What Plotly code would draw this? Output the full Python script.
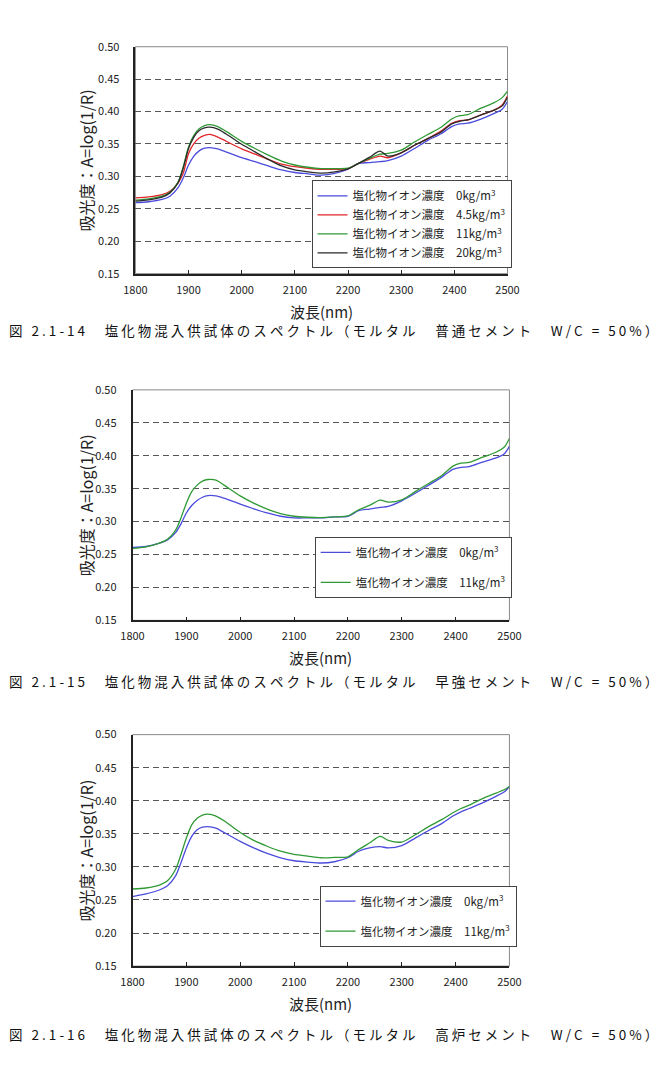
import plotly.graph_objects as go

# ---------------- data ----------------
wavelength = [1800, 1825, 1850, 1865, 1880, 1890, 1900, 1910, 1920, 1930, 1940, 1955, 1970,
              2000, 2025, 2050, 2075, 2100, 2125, 2150, 2175, 2200, 2220, 2240, 2260, 2275,
              2300, 2325, 2350, 2375, 2395, 2410, 2425, 2450, 2475, 2490, 2500]

# Fig 2.1-14 (普通セメント)
f14_0kg = [0.2594, 0.2609, 0.2644, 0.2695, 0.2822, 0.2974, 0.3176, 0.3313, 0.3394, 0.3435, 0.3445, 0.3424, 0.3379,
           0.3288, 0.3227, 0.3161, 0.3100, 0.3060, 0.3040, 0.3019, 0.3045, 0.3110, 0.3202, 0.3212, 0.3227, 0.3242,
           0.3313, 0.3430, 0.3556, 0.3658, 0.3769, 0.3810, 0.3820, 0.3885, 0.3972, 0.4037, 0.4154]
f14_4_5kg = [0.2670, 0.2685, 0.2720, 0.2771, 0.2898, 0.3050, 0.3354, 0.3506, 0.3592, 0.3632, 0.3647, 0.3607, 0.3546,
             0.3424, 0.3343, 0.3262, 0.3191, 0.3151, 0.3126, 0.3110, 0.3110, 0.3120, 0.3202, 0.3262, 0.3313, 0.3288,
             0.3364, 0.3480, 0.3582, 0.3698, 0.3820, 0.3860, 0.3870, 0.3951, 0.4022, 0.4103, 0.4240]
f14_11kg = [0.2634, 0.2654, 0.2695, 0.2756, 0.2908, 0.3151, 0.3455, 0.3632, 0.3734, 0.3784, 0.3799, 0.3769, 0.3698,
            0.3541, 0.3430, 0.3328, 0.3237, 0.3176, 0.3141, 0.3120, 0.3120, 0.3126, 0.3202, 0.3278, 0.3343, 0.3354,
            0.3404, 0.3531, 0.3647, 0.3759, 0.3885, 0.3936, 0.3951, 0.4052, 0.4139, 0.4215, 0.4316]
f14_20kg = [0.2619, 0.2639, 0.2680, 0.2746, 0.2898, 0.3126, 0.3430, 0.3607, 0.3708, 0.3749, 0.3759, 0.3729, 0.3658,
            0.3495, 0.3379, 0.3262, 0.3161, 0.3100, 0.3070, 0.3050, 0.3070, 0.3116, 0.3202, 0.3293, 0.3389, 0.3313,
            0.3364, 0.3480, 0.3582, 0.3683, 0.3810, 0.3850, 0.3870, 0.3946, 0.4022, 0.4088, 0.4225]

# Fig 2.1-15 (早強セメント)
f15_0kg = [0.2607, 0.2622, 0.2672, 0.2722, 0.2832, 0.2966, 0.3131, 0.3245, 0.3320, 0.3370, 0.3395, 0.3390, 0.3355,
           0.3265, 0.3195, 0.3131, 0.3081, 0.3056, 0.3056, 0.3056, 0.3071, 0.3081, 0.3165, 0.3190, 0.3215, 0.3230,
           0.3315, 0.3430, 0.3554, 0.3679, 0.3794, 0.3824, 0.3834, 0.3903, 0.3968, 0.4028, 0.4143]
f15_11kg = [0.2592, 0.2617, 0.2672, 0.2732, 0.2871, 0.3056, 0.3280, 0.3455, 0.3554, 0.3614, 0.3639, 0.3629, 0.3554,
            0.3390, 0.3280, 0.3190, 0.3121, 0.3081, 0.3066, 0.3061, 0.3071, 0.3086, 0.3180, 0.3245, 0.3325, 0.3295,
            0.3330, 0.3455, 0.3579, 0.3704, 0.3843, 0.3888, 0.3898, 0.3978, 0.4053, 0.4128, 0.4262]

# Fig 2.1-16 (高炉セメント)
f16_0kg = [0.2552, 0.2592, 0.2651, 0.2716, 0.2865, 0.3064, 0.3287, 0.3461, 0.3560, 0.3600, 0.3610, 0.3585, 0.3520,
           0.3386, 0.3287, 0.3203, 0.3138, 0.3093, 0.3073, 0.3059, 0.3078, 0.3138, 0.3237, 0.3287, 0.3307, 0.3287,
           0.3322, 0.3436, 0.3550, 0.3659, 0.3769, 0.3833, 0.3883, 0.3967, 0.4067, 0.4131, 0.4216]
f16_11kg = [0.2666, 0.2681, 0.2726, 0.2790, 0.2964, 0.3188, 0.3436, 0.3635, 0.3734, 0.3784, 0.3798, 0.3769, 0.3699,
            0.3520, 0.3401, 0.3312, 0.3237, 0.3188, 0.3163, 0.3138, 0.3143, 0.3153, 0.3262, 0.3361, 0.3461, 0.3401,
            0.3376, 0.3486, 0.3610, 0.3719, 0.3818, 0.3883, 0.3933, 0.4032, 0.4116, 0.4166, 0.4216]

series_label_prefix = "塩化物イオン濃度　"
conc_labels = ["0kg/m<sup>3</sup>", "4.5kg/m<sup>3</sup>", "11kg/m<sup>3</sup>", "20kg/m<sup>3</sup>"]

captions = [
    "図 2.1-14　塩化物混入供試体のスペクトル（モルタル　普通セメント　W/C = 50%）",
    "図 2.1-15　塩化物混入供試体のスペクトル（モルタル　早強セメント　W/C = 50%）",
    "図 2.1-16　塩化物混入供試体のスペクトル（モルタル　高炉セメント　W/C = 50%）",
]
y_title = "吸光度：A=log(1/R)"
x_title = "波長(nm)"

# ---------------- style ----------------
W, H = 667, 1065
FONT = "Noto Sans CJK JP"
C_BLUE = "#4b4bdc"
C_RED = "#e0262a"
C_GREEN = "#2f9a35"
C_BLACK = "#2a2a2a"


def px_x(p):
    return p / W


def px_y(p):
    return 1 - p / H


# plot boxes in pixels: (left, right, top, bottom)
boxes = [(128, 514, 38.3, 268.7), (125, 516, 386.7, 620.7), (125, 516, 736.7, 971.7)]
legend_pos = [(310.7, 174), (314, 536), (319, 890)]
caption_y = [326, 682, 1041]

fig = go.Figure()

chart_series = [
    [(f14_0kg, C_BLUE, 0), (f14_4_5kg, C_RED, 1), (f14_11kg, C_GREEN, 2), (f14_20kg, C_BLACK, 3)],
    [(f15_0kg, C_BLUE, 0), (f15_11kg, C_GREEN, 2)],
    [(f16_0kg, C_BLUE, 0), (f16_11kg, C_GREEN, 2)],
]

for i, series in enumerate(chart_series):
    sfx = "" if i == 0 else str(i + 1)
    for vals, col, li in series:
        fig.add_trace(go.Scatter(
            x=wavelength, y=vals, mode="lines",
            line=dict(color=col, width=1.3, shape="spline", smoothing=0.8),
            name=series_label_prefix + conc_labels[li],
            legend="legend" + sfx,
            legendgroup=f"g{i}_{li}",
            xaxis="x" + sfx, yaxis="y" + sfx,
            showlegend=True,
        ))

layout = dict(
    width=W, height=H,
    margin=dict(l=0, r=0, t=0, b=0),
    paper_bgcolor="white", plot_bgcolor="white",
    font=dict(family=FONT, color="#222"),
    showlegend=True,
)

annotations = []
shapes = []
for i, (l, r, t, b) in enumerate(boxes):
    sfx = "" if i == 0 else str(i + 1)
    layout["xaxis" + sfx] = dict(
        domain=[px_x(l), px_x(r)], anchor="y" + sfx,
        range=[1800, 2500], tick0=1800, dtick=100,
        ticks="inside", ticklen=4, tickcolor="#222", tickwidth=1,
        showline=True, linecolor="#222", linewidth=1.5,
        showgrid=False, zeroline=False,
        tickfont=dict(family=FONT, size=11, color="#222"),
        ticklabelstandoff=5,
    )
    layout["yaxis" + sfx] = dict(
        domain=[px_y(b), px_y(t)], anchor="x" + sfx,
        range=[0.15, 0.50], tick0=0.15, dtick=0.05, tickformat=".2f",
        ticks="", showline=True, linecolor="#222", linewidth=1.5,
        showgrid=True, gridcolor="#555", gridwidth=1, griddash="6px,4px",
        zeroline=False,
        tickfont=dict(family=FONT, size=11, color="#222"),
        ticklabelstandoff=12,
    )
    # thin grey frame (top / right)
    shapes.append(dict(type="rect", xref="x" + sfx + " domain", yref="y" + sfx + " domain",
                       x0=0, x1=1, y0=0, y1=1, line=dict(color="#8a8a8a", width=1), layer="below"))
    # axis titles
    annotations.append(dict(text=y_title, xref="paper", yref="paper",
                            x=px_x(77), y=px_y((t + b) / 2), textangle=-90,
                            showarrow=False, xanchor="center", yanchor="middle",
                            font=dict(family=FONT, size=16, color="#222")))
    annotations.append(dict(text=x_title, xref="paper", yref="paper",
                            x=px_x((l + r) / 2), y=px_y(b + 38), showarrow=False,
                            xanchor="center", yanchor="middle",
                            font=dict(family=FONT, size=15, color="#222")))
    # caption
    annotations.append(dict(text=" ".join(list(captions[i])), xref="paper", yref="paper",
                            x=0.5, y=px_y(caption_y[i]), showarrow=False,
                            xanchor="center", yanchor="middle",
                            font=dict(family=FONT, size=13.5, color="#111")))
    lx, ly = legend_pos[i]
    layout["legend" + sfx] = dict(
        x=px_x(lx), y=px_y(ly), xanchor="left", yanchor="top",
        xref="paper", yref="paper",
        bgcolor="white", bordercolor="#444", borderwidth=1,
        font=dict(family=FONT, size=11.5, color="#222"),
        tracegroupgap=0 if i == 0 else 11,
        itemwidth=30,
    )

layout["annotations"] = annotations
layout["shapes"] = shapes
fig.update_layout(**layout)

fig.write_html("out.html")
